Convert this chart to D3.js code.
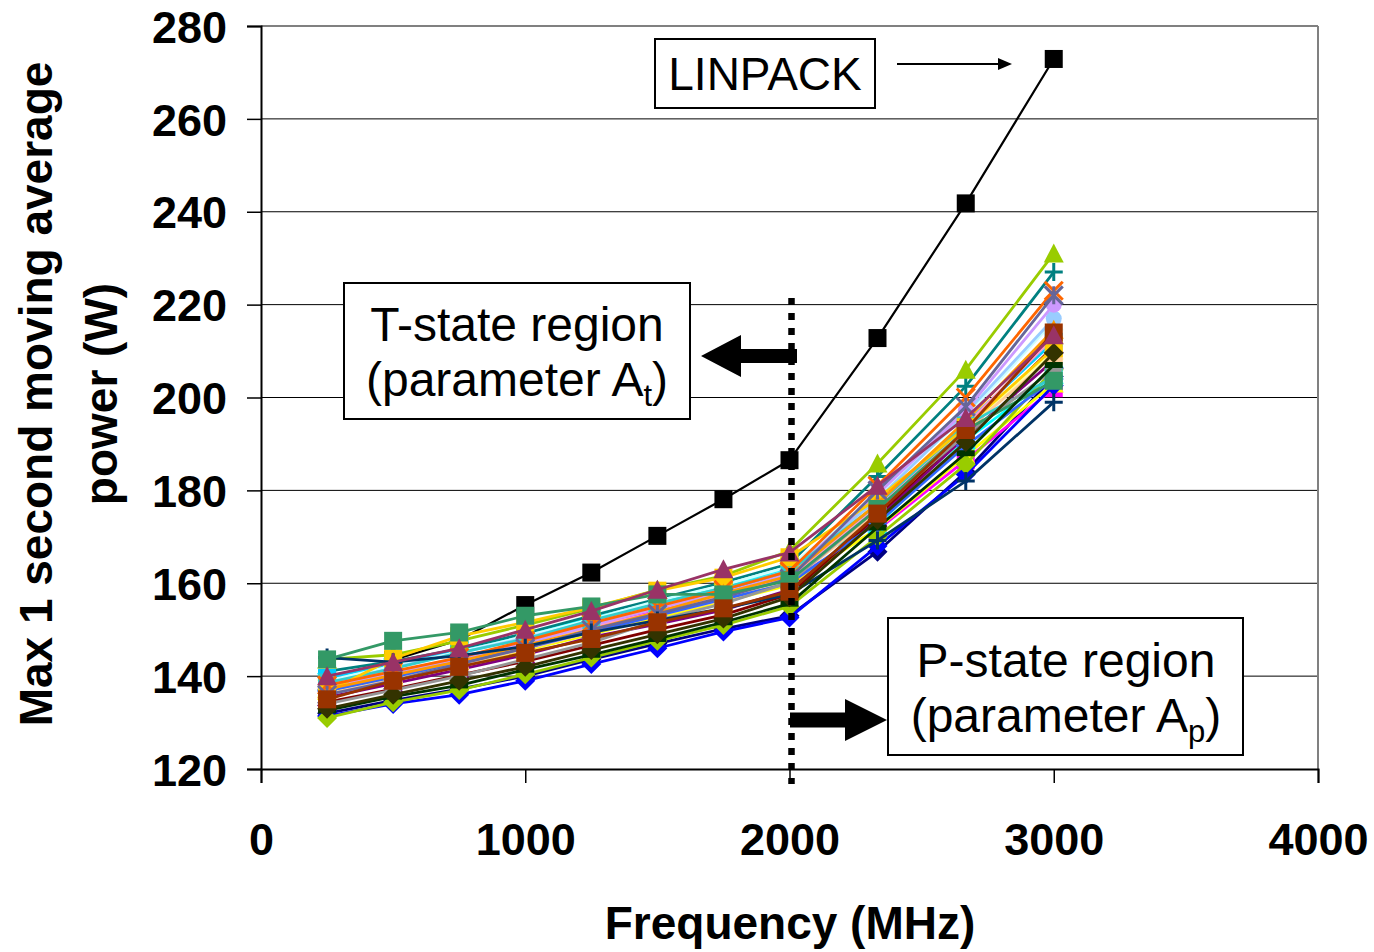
<!DOCTYPE html>
<html>
<head>
<meta charset="utf-8">
<script src="https://cdn.jsdelivr.net/npm/d3@7"></script>
<style>
  body { margin: 0; background: #fff; }
  svg { display: block; }
</style>
</head>
<body>
<svg id="chart" width="1374" height="952"></svg>
<script>
// Clock frequencies (MHz) at which each workload was measured
const frequencies = [250, 500, 750, 1000, 1250, 1500, 1750, 2000, 2333, 2667, 3000];
const yTickValues = [120, 140, 160, 180, 200, 220, 240, 260, 280];
const xTickValues = [0, 1000, 2000, 3000, 4000];

// Max 1-second moving-average power (W) per workload
const linpack     = [136.5, 143.5, 147.8, 155.3, 162.3, 170.2, 178.1, 186.5, 212.8, 241.8, 272.9];
const wl01 = [132.0, 134.8, 137.2, 140.0, 143.6, 147.0, 150.2, 153.0, 166.8, 184.0, 204.5];
const wl02 = [139.3, 140.6, 143.8, 147.2, 150.8, 154.0, 157.3, 160.8, 171.5, 186.5, 202.0];
const wl03 = [136.8, 139.8, 142.2, 145.6, 149.0, 152.6, 156.0, 159.6, 171.8, 187.5, 203.0];
const wl04 = [138.8, 142.0, 145.6, 149.0, 152.5, 155.8, 159.2, 163.2, 172.6, 190.8, 204.8];
const wl05 = [135.4, 138.4, 141.4, 144.6, 148.4, 151.2, 154.2, 158.6, 174.0, 191.6, 208.0];
const wl06 = [134.4, 137.2, 140.2, 143.2, 146.6, 150.0, 153.2, 157.6, 174.6, 192.4, 211.0];
const wl07 = [141.0, 143.2, 145.8, 149.2, 153.0, 156.6, 160.2, 164.2, 183.0, 202.4, 227.0];
const wl08 = [131.4, 134.0, 136.0, 139.0, 142.6, 146.0, 149.6, 152.6, 168.0, 183.4, 202.6];
const wl09 = [139.6, 142.6, 145.4, 148.2, 151.6, 155.2, 158.2, 162.0, 176.6, 194.4, 212.0];
const wl10 = [139.0, 142.2, 145.2, 148.6, 152.2, 156.2, 159.6, 163.6, 178.6, 196.0, 216.4];
const wl11 = [131.0, 134.4, 137.0, 140.4, 144.0, 147.6, 151.0, 155.0, 170.0, 185.6, 206.0];
const wl12 = [137.4, 140.4, 143.4, 146.8, 150.2, 153.6, 157.0, 160.6, 175.6, 193.2, 210.0];
const wl13 = [138.3, 141.8, 145.0, 148.2, 151.8, 155.2, 158.8, 162.8, 178.0, 196.6, 217.0];
const wl14 = [137.8, 140.8, 144.0, 147.4, 150.6, 153.8, 157.6, 161.0, 176.4, 194.0, 213.0];
const wl15 = [137.6, 140.6, 143.6, 147.0, 151.0, 154.6, 158.0, 162.0, 179.2, 197.2, 220.0];
const wl16 = [136.2, 139.2, 142.4, 145.8, 149.4, 153.0, 156.4, 160.2, 175.2, 192.8, 209.0];
const wl17 = [136.8, 139.8, 143.0, 146.0, 149.6, 153.0, 156.6, 160.0, 173.0, 189.6, 204.0];
const wl18 = [138.6, 141.6, 145.0, 148.0, 152.0, 155.6, 159.0, 162.6, 177.0, 194.0, 204.4];
const wl19 = [143.6, 144.6, 147.6, 151.0, 154.6, 158.6, 161.6, 167.0, 185.8, 206.0, 231.0];
const wl20 = [136.6, 143.8, 148.6, 151.6, 154.8, 158.4, 161.2, 165.6, 178.2, 193.6, 210.6];
const wl21 = [137.2, 140.2, 143.2, 146.6, 150.0, 153.8, 157.8, 161.6, 177.2, 195.0, 214.6];
const wl22 = [138.0, 141.0, 144.0, 147.6, 151.4, 155.0, 158.6, 162.6, 181.0, 200.0, 223.0];
const wl23 = [136.0, 139.0, 142.6, 146.0, 150.0, 153.4, 157.0, 161.0, 180.0, 198.0, 222.0];
const wl24 = [134.0, 137.0, 140.0, 143.6, 147.2, 152.0, 155.6, 160.2, 176.0, 192.0, 206.0];
const wl25 = [144.0, 143.0, 144.4, 146.4, 149.4, 152.0, 154.6, 157.6, 169.2, 182.0, 199.0];
const wl26 = [143.6, 147.6, 149.4, 153.0, 155.0, 157.6, 157.6, 160.6, 176.0, 193.0, 203.6];
const wl27 = [132.6, 135.6, 138.0, 141.4, 144.6, 148.0, 151.6, 155.6, 172.0, 188.0, 207.0];
const wl28 = [133.0, 136.0, 139.0, 142.0, 145.6, 149.0, 152.4, 157.0, 173.6, 190.4, 209.6];
const wl29 = [135.0, 139.0, 142.0, 145.0, 148.0, 151.6, 154.6, 158.2, 175.0, 193.0, 214.0];
const wl30 = [140.0, 143.0, 146.0, 150.0, 154.0, 158.6, 163.0, 166.6, 181.0, 195.6, 213.4];

// Series in drawing order (first drawn sits underneath)
const seriesValues = [linpack, wl01, wl02, wl03, wl04, wl05, wl06, wl07, wl08, wl09, wl10,
  wl11, wl12, wl13, wl14, wl15, wl16, wl17, wl18, wl19, wl20,
  wl21, wl22, wl23, wl24, wl25, wl26, wl27, wl28, wl29, wl30];
const seriesColors = ["#000000", "#000080", "#FF00FF", "#FFFF00", "#00FFFF", "#800080", "#800000",
  "#008080", "#0000FF", "#00CCFF", "#CCFFFF", "#99CC00", "#FFFF99", "#99CCFF", "#FF99CC",
  "#CC99FF", "#FFCC99", "#3366FF", "#33CCCC", "#99CC00", "#FFCC00", "#FF9900", "#FF6600",
  "#666699", "#969696", "#003366", "#339966", "#003300", "#333300", "#993300", "#993366"];
const seriesMarkers = ["square", "diamond", "square", "triangle", "x", "star", "circle",
  "plus", "diamond", "square", "triangle", "diamond", "star", "circle", "plus",
  "circle", "square", "diamond", "square", "triangle", "square", "triangle", "x",
  "star", "circle", "plus", "square", "dash", "diamond", "square", "triangle"];

const svg = d3.select("#chart");
const FONT = "'Liberation Sans', Arial, Helvetica, sans-serif";

const x = d3.scaleLinear().domain([0, 4000]).range([261, 1318]);
const y = d3.scaleLinear().domain([120, 280]).range([769, 26]);

// Horizontal gridlines
svg.append("g").selectAll("line")
  .data(yTickValues.filter(v => v > 120 && v < 280))
  .join("line")
  .attr("x1", x(0)).attr("x2", x(4000))
  .attr("y1", d => y(d)).attr("y2", d => y(d))
  .attr("stroke", "#000").attr("stroke-width", 1);

// Plot frame (top and right in grey)
svg.append("line").attr("x1", x(0)).attr("x2", x(4000)).attr("y1", y(280)).attr("y2", y(280))
  .attr("stroke", "#808080").attr("stroke-width", 2);
svg.append("line").attr("x1", x(4000)).attr("x2", x(4000)).attr("y1", y(280)).attr("y2", y(120))
  .attr("stroke", "#808080").attr("stroke-width", 2);

// Axes
const yAxis = d3.axisLeft(y).tickValues(yTickValues).tickSize(14).tickPadding(20)
  .tickFormat(d3.format("d"));
const xAxis = d3.axisBottom(x).tickValues(xTickValues).tickSize(14).tickPadding(40)
  .tickFormat(d3.format("d"));
const gy = svg.append("g").attr("transform", `translate(${x(0)},0)`).call(yAxis);
const gx = svg.append("g").attr("transform", `translate(0,${y(120)})`).call(xAxis);
[gx, gy].forEach(g => {
  g.select(".domain").attr("stroke", "#000").attr("stroke-width", 2);
  g.selectAll(".tick line").attr("stroke", "#000").attr("stroke-width", 1.5);
  g.selectAll(".tick text")
    .attr("fill", "#000")
    .style("font-family", FONT)
    .style("font-weight", "bold")
    .style("font-size", "45px");
});
gy.selectAll(".tick text").attr("dy", "0.36em");
gx.selectAll(".tick text").attr("dy", "0.72em");

// Series lines
const line = d3.line().x((d, i) => x(frequencies[i])).y(d => y(d));

const plot = svg.append("g");

function drawMarker(g, type, color, cx, cy) {
  const h = 9;
  switch (type) {
    case "square":
      g.append("rect").attr("x", cx - h).attr("y", cy - h).attr("width", 2 * h).attr("height", 2 * h)
        .attr("fill", color);
      break;
    case "diamond":
      g.append("path").attr("d", `M${cx},${cy - h - 1}L${cx + h + 1},${cy}L${cx},${cy + h + 1}L${cx - h - 1},${cy}Z`)
        .attr("fill", color);
      break;
    case "triangle":
      g.append("path").attr("d", `M${cx},${cy - h - 1}L${cx + h + 1},${cy + h}L${cx - h - 1},${cy + h}Z`)
        .attr("fill", color);
      break;
    case "circle":
      g.append("circle").attr("cx", cx).attr("cy", cy).attr("r", h - 1).attr("fill", color);
      break;
    case "plus":
      g.append("path").attr("d", `M${cx - h},${cy}H${cx + h}M${cx},${cy - h}V${cy + h}`)
        .attr("stroke", color).attr("stroke-width", 3).attr("fill", "none");
      break;
    case "x":
      g.append("path").attr("d", `M${cx - h},${cy - h}L${cx + h},${cy + h}M${cx + h},${cy - h}L${cx - h},${cy + h}`)
        .attr("stroke", color).attr("stroke-width", 3).attr("fill", "none");
      break;
    case "star":
      g.append("path").attr("d", `M${cx - h},${cy - h}L${cx + h},${cy + h}M${cx + h},${cy - h}L${cx - h},${cy + h}M${cx},${cy - h}V${cy + h}`)
        .attr("stroke", color).attr("stroke-width", 3).attr("fill", "none");
      break;
    case "dash":
      g.append("rect").attr("x", cx - h).attr("y", cy - 3).attr("width", 2 * h).attr("height", 6)
        .attr("fill", color);
      break;
  }
}

seriesValues.forEach((vals, si) => {
  const g = plot.append("g");
  g.append("path")
    .attr("d", line(vals))
    .attr("fill", "none")
    .attr("stroke", seriesColors[si])
    .attr("stroke-width", si === 0 ? 2.2 : 2.8)
    .attr("stroke-linejoin", "round");
  vals.forEach((v, i) => drawMarker(g, seriesMarkers[si], seriesColors[si], x(frequencies[i]), y(v)));
});

// Boundary between T-state and P-state control at 2000 MHz
svg.append("line")
  .attr("x1", x(2000) + 2).attr("x2", x(2000) + 2)
  .attr("y1", 298).attr("y2", 784)
  .attr("stroke", "#000").attr("stroke-width", 6.5)
  .attr("stroke-dasharray", "7,8");

// Block arrows
function blockArrow(x0, x1, cy, shaft, headLen, headH) {
  const dir = Math.sign(x1 - x0);
  const hb = x1 - dir * headLen;
  const d = `M${x0},${cy - shaft / 2}L${hb},${cy - shaft / 2}L${hb},${cy - headH / 2}L${x1},${cy}` +
    `L${hb},${cy + headH / 2}L${hb},${cy + shaft / 2}L${x0},${cy + shaft / 2}Z`;
  svg.append("path").attr("d", d).attr("fill", "#000");
}
blockArrow(797, 701, 356, 14, 40, 42);
blockArrow(790, 887, 720, 15, 42, 42);

// Annotation boxes
function box(x0, y0, w, h) {
  svg.append("rect").attr("x", x0).attr("y", y0).attr("width", w).attr("height", h)
    .attr("fill", "#fff").attr("stroke", "#000").attr("stroke-width", 2);
}

box(344, 283, 346, 136);
const tText = svg.append("g").style("font-family", FONT).style("font-size", "48px").attr("fill", "#000");
tText.append("text").attr("x", 517).attr("y", 341).attr("text-anchor", "middle").text("T-state region");
const tl2 = tText.append("text").attr("x", 517).attr("y", 396).attr("text-anchor", "middle");
tl2.append("tspan").text("(parameter A");
tl2.append("tspan").attr("font-size", "31px").attr("dy", 10).text("t");
tl2.append("tspan").attr("dy", -10).text(")");

box(888, 618, 355, 137);
const pText = svg.append("g").style("font-family", FONT).style("font-size", "48px").attr("fill", "#000");
pText.append("text").attr("x", 1066).attr("y", 677).attr("text-anchor", "middle").text("P-state region");
const pl2 = pText.append("text").attr("x", 1066).attr("y", 732).attr("text-anchor", "middle");
pl2.append("tspan").text("(parameter A");
pl2.append("tspan").attr("font-size", "31px").attr("dy", 10).text("p");
pl2.append("tspan").attr("dy", -10).text(")");

box(655, 39, 220, 69);
svg.append("text").attr("x", 765).attr("y", 90).attr("text-anchor", "middle")
  .style("font-family", FONT).style("font-size", "46px").attr("fill", "#000").text("LINPACK");

// Thin pointer to the LINPACK series
svg.append("line").attr("x1", 897).attr("x2", 1000).attr("y1", 64).attr("y2", 64)
  .attr("stroke", "#000").attr("stroke-width", 2);
svg.append("path").attr("d", "M1012,64L998,58L998,70Z").attr("fill", "#000");

// Axis titles
svg.append("text").attr("x", 790).attr("y", 939).attr("text-anchor", "middle")
  .style("font-family", FONT).style("font-weight", "bold").style("font-size", "46px")
  .attr("fill", "#000").text("Frequency (MHz)");

const yTitle = svg.append("g").attr("transform", "translate(0,394) rotate(-90)")
  .style("font-family", FONT).style("font-weight", "bold").style("font-size", "46px").attr("fill", "#000");
yTitle.append("text").attr("x", 0).attr("y", 52).attr("text-anchor", "middle").text("Max 1 second moving average");
yTitle.append("text").attr("x", 0).attr("y", 117).attr("text-anchor", "middle").text("power (W)");
</script>
</body>
</html>
